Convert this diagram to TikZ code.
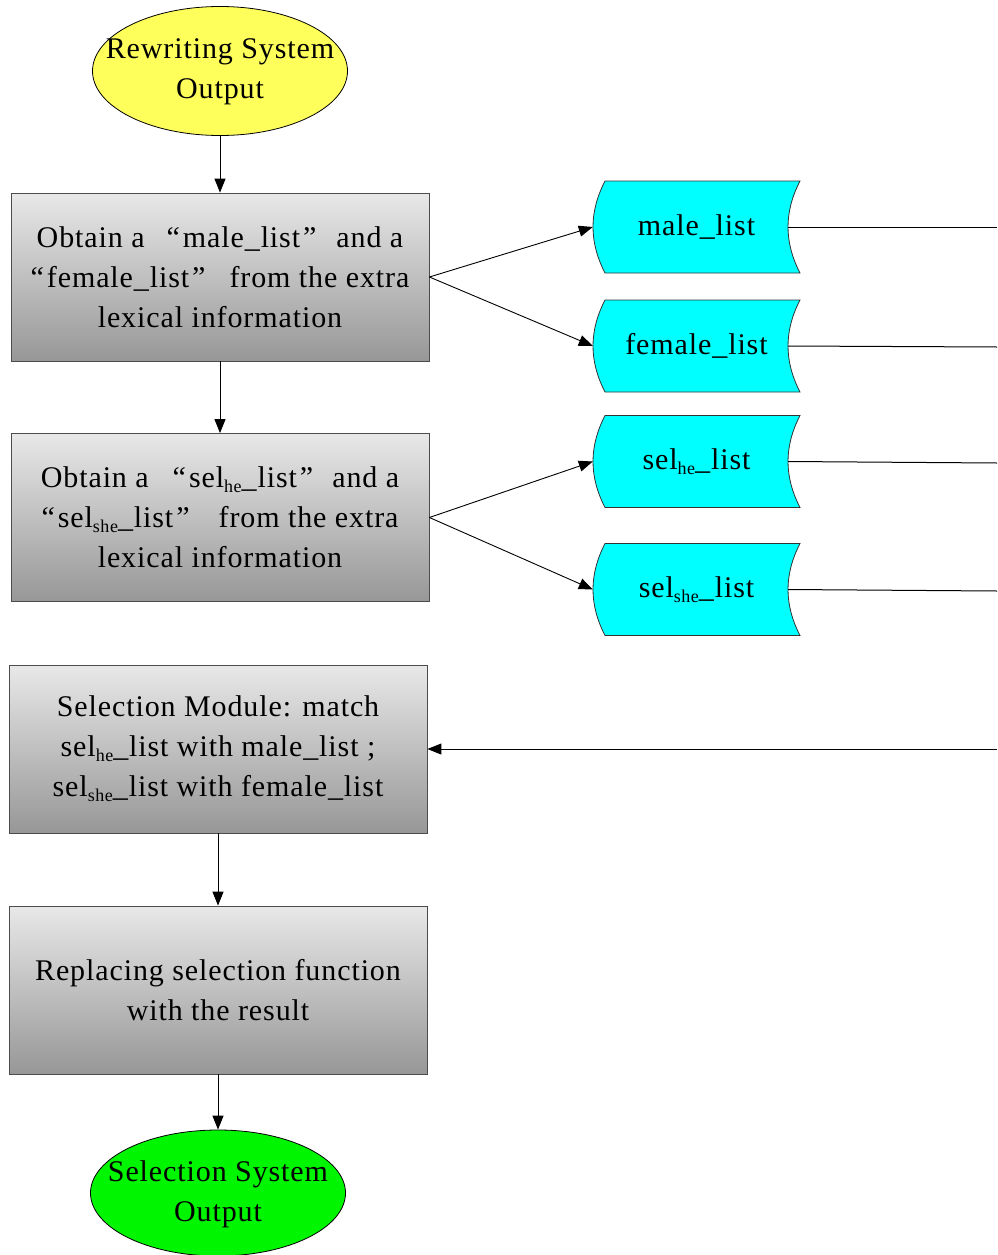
\documentclass[tikz,border=0pt]{standalone}
\usepackage{fontspec}
\setmainfont{Liberation Serif}[LetterSpace=3]
\usetikzlibrary{shapes.geometric,arrows.meta}
\definecolor{boxtop}{HTML}{E8E8E8}
\definecolor{boxbot}{HTML}{979797}
\definecolor{ylw}{HTML}{FFFF5C}
\definecolor{grn}{HTML}{00F500}
\definecolor{cyn}{HTML}{00FFFF}
\newcommand\subtxt[1]{\raisebox{-0.35ex}{\fontsize{18}{18}\selectfont #1}}
\newcommand\oq{“\hspace{3pt}}
\newcommand\cq{\hspace{3pt}”}
\newcommand\ellipsetext[1]{\raisebox{-5pt}{\makebox[0pt]{\begin{tabular}{@{}c@{}}#1\end{tabular}}}}
\newcommand\storedata[3]{%
  \draw[storeshape] (#2) ++(-91.5,-46) -- ++(195,0)
    .. controls ++(-16,31) and ++(-16,-31) .. ++(0,92) -- ++(-195,0)
    .. controls ++(-16,-31) and ++(-16,31) .. ++(0,-92) -- cycle;
  \node[listnode] (#1) at (#2) {#3};}
\begin{document}
\begin{tikzpicture}[x=1pt,y=-1pt,
  every node/.style={font=\fontsize{30}{40}\selectfont},
  procbox/.style={draw=black!70, line width=0.8pt, top color=boxtop, bottom color=boxbot,
    minimum width=418pt, minimum height=168pt, align=center, inner sep=0pt},
  termnode/.style={ellipse, draw=black, line width=0.8pt, minimum width=255pt,
    minimum height=129pt, inner sep=0pt},
  listnode/.style={minimum width=207pt, minimum height=92pt, inner sep=0pt},
  storeshape/.style={fill=cyn, draw=black!80, line width=0.8pt},
  arr/.style={line width=0.9pt, -{Triangle[length=14pt,width=11pt]}},
  ln/.style={line width=1pt}]
\useasboundingbox (0,0) rectangle (997,1255);

\node[termnode, fill=ylw] (start) at (220,71) {\ellipsetext{Rewriting System\\Output}};
\node[procbox] (b1) at (220,277) {Obtain a\hspace{22pt}\oq male\_list\cq\hspace{20pt}and a\\\oq female\_list\cq\hspace{24pt}from the extra\\lexical information};
\node[procbox] (b2) at (220,517.5) {Obtain a\hspace{24pt}\oq sel\subtxt{he}\_list\cq\hspace{19pt}and a\\\oq sel\subtxt{she}\_list\cq\hspace{29pt}from the extra\\lexical information};
\node[procbox] (b3) at (218,749) {Selection Module: match\\sel\subtxt{he}\_list with male\_list ;\\sel\subtxt{she}\_list with female\_list};
\node[procbox] (b4) at (218,990) {Replacing selection function\\with the result};
\node[termnode, fill=grn, minimum height=126pt] (stop) at (218,1193) {\ellipsetext{Selection System\\Output}};

\storedata{ml}{696.5,227}{male\_list}
\storedata{fl}{696.5,346}{female\_list}
\storedata{sh}{696.5,461.5}{sel\subtxt{he}\_list}
\storedata{ss}{696.5,589.5}{sel\subtxt{she}\_list}

\coordinate (e1) at (997,227);
\coordinate (e2) at (997,347);
\coordinate (e3) at (997,463);
\coordinate (e4) at (997,591);
\coordinate (e5) at (997,749);

\draw[arr] (start.south) -- (b1.north);
\draw[arr] (b1.south) -- (b2.north);
\draw[arr] (b3.south) -- (b4.north);
\draw[arr] (b4.south) -- (stop.north);

\draw[arr] (b1.east) -- (ml.west);
\draw[arr] (b1.east) -- (fl.west);
\draw[arr] (b2.east) -- (sh.west);
\draw[arr] (b2.east) -- (ss.west);

\draw[ln] ([xshift=-12pt]ml.east) -- (e1);
\draw[ln] ([xshift=-12pt]fl.east) -- (e2);
\draw[ln] ([xshift=-12pt]sh.east) -- (e3);
\draw[ln] ([xshift=-12pt]ss.east) -- (e4);
\draw[arr] (e5) -- (b3.east);
\end{tikzpicture}
\end{document}
